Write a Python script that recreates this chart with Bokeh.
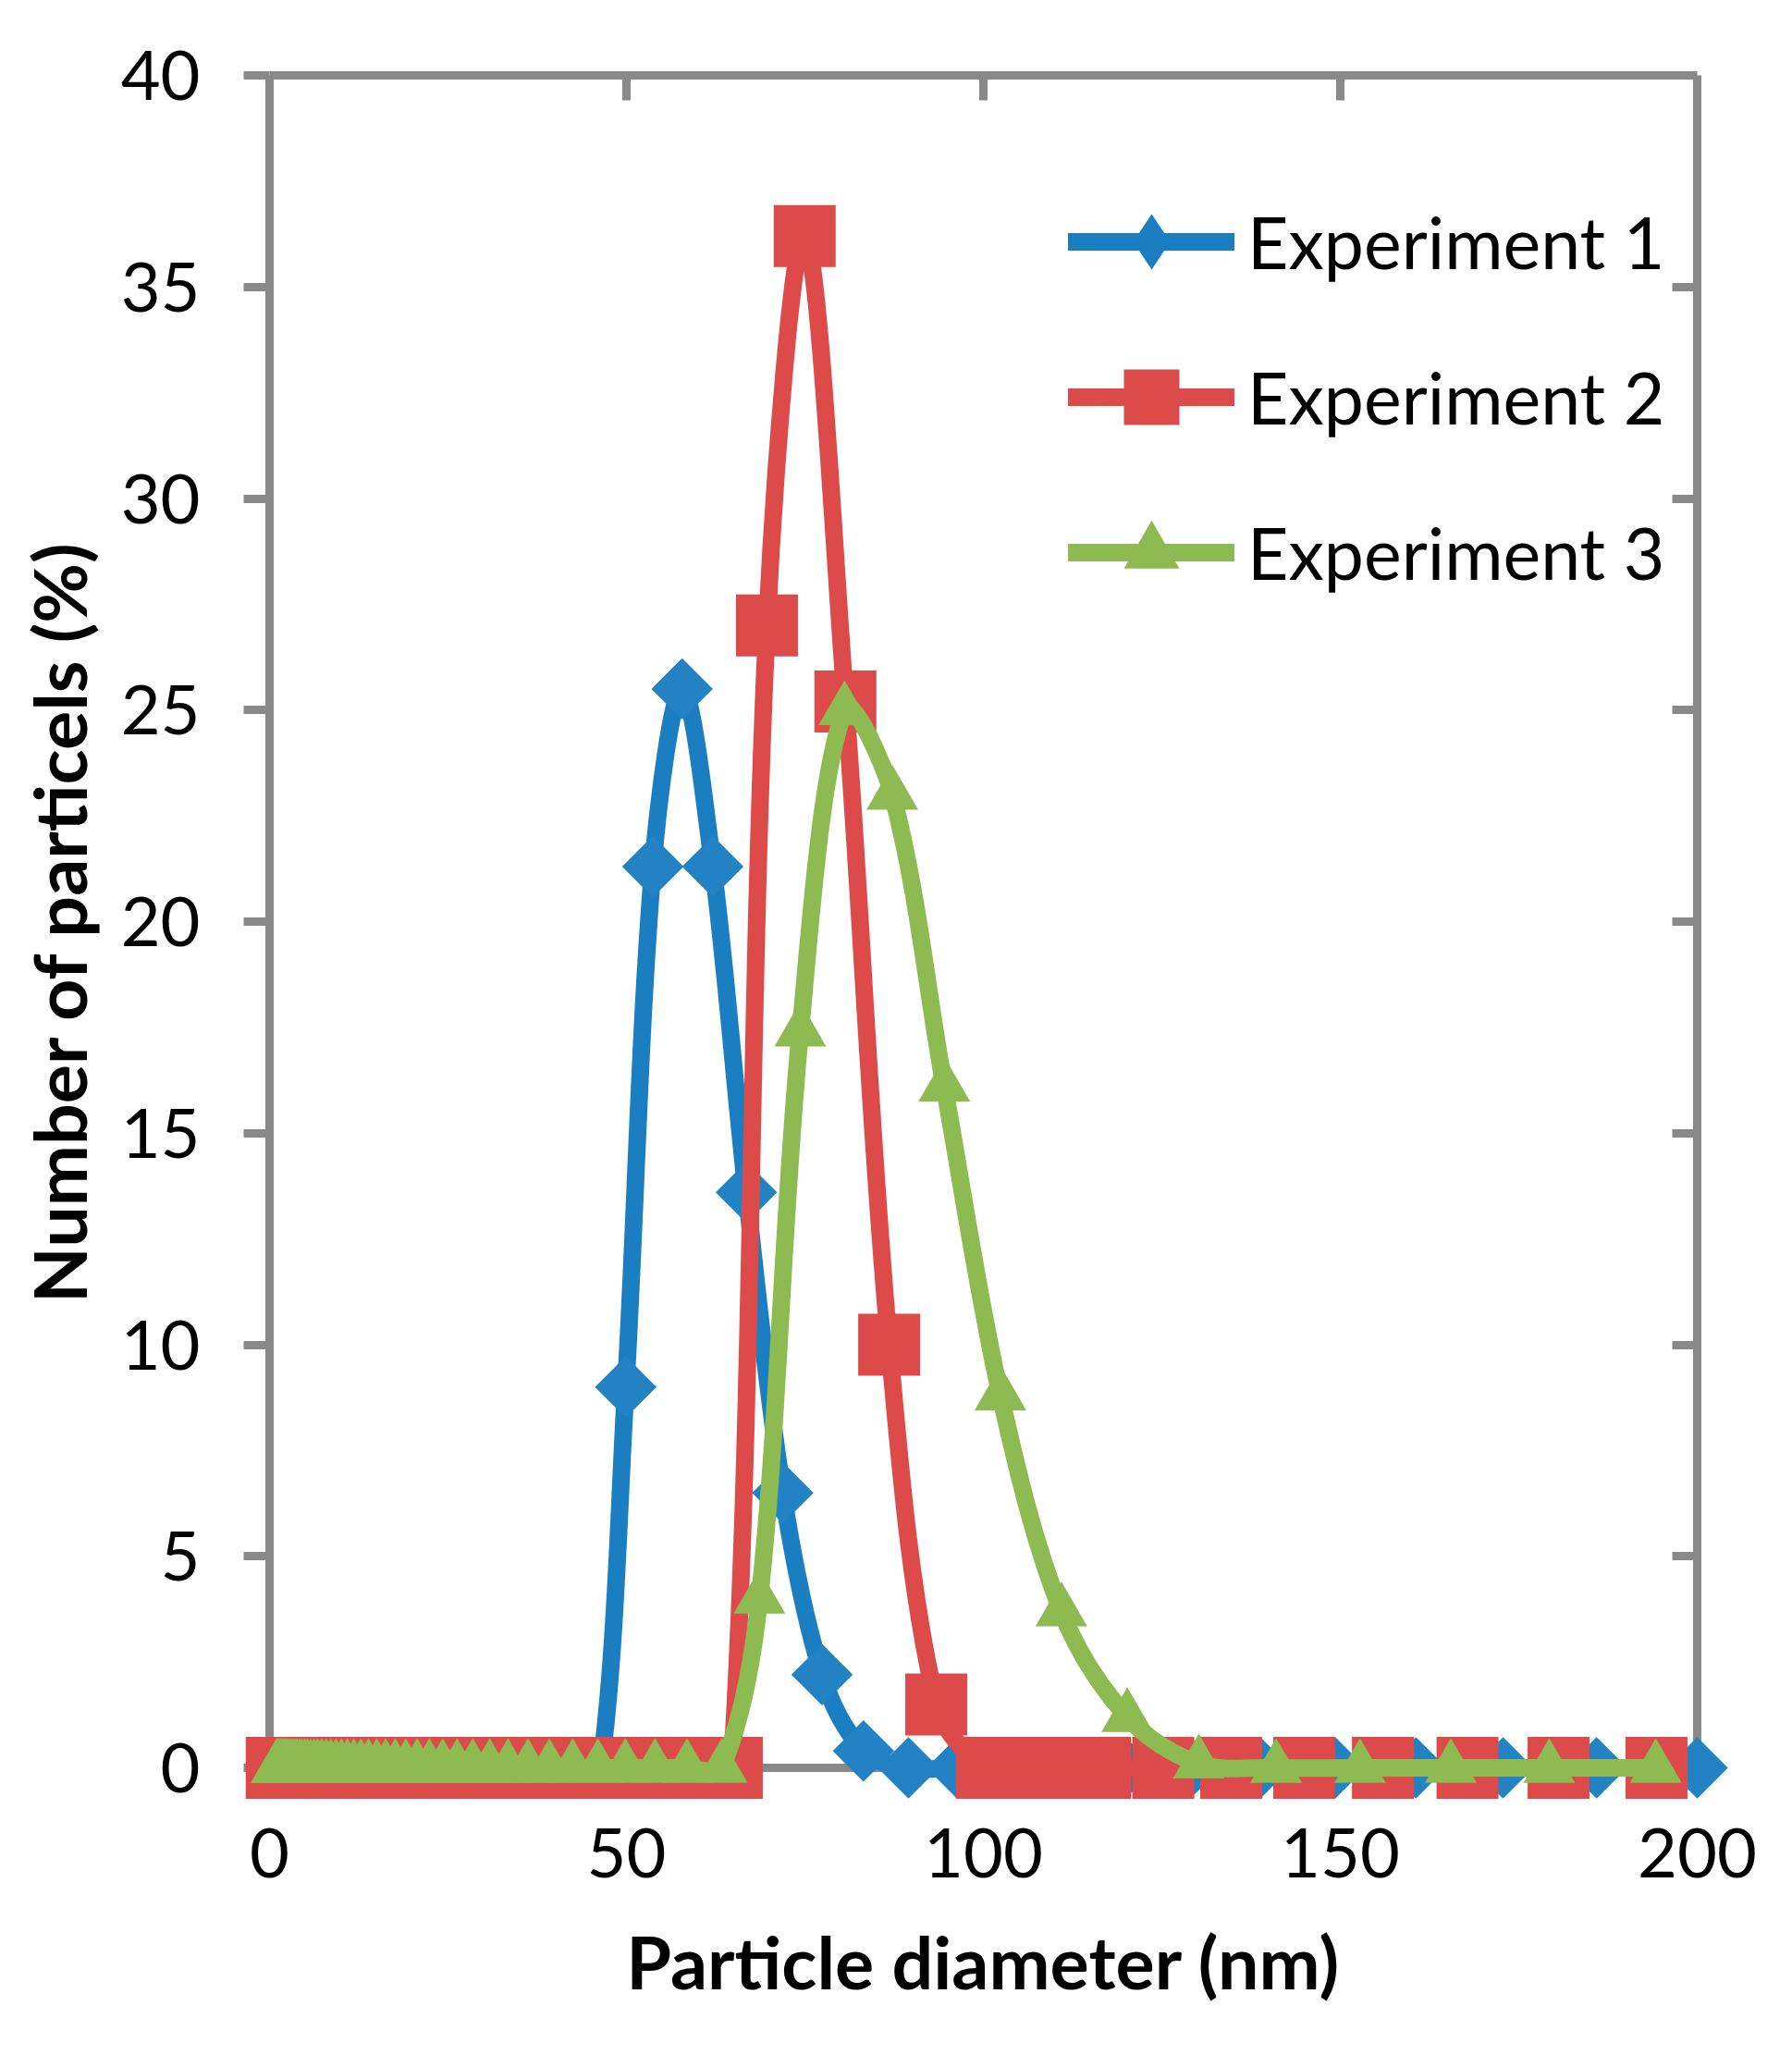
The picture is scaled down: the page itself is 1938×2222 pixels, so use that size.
import numpy as np
from bokeh.plotting import figure
from bokeh.models import (Range1d, LinearAxis, FixedTicker, Legend, LegendItem)
from bokeh.embed import file_html
from bokeh.resources import INLINE

# ---------------- data ----------------
series_names = ["Experiment 1", "Experiment 2", "Experiment 3"]
x_title = "Particle diameter (nm)"
y_title = "Number of particels (%)"
x_ticks = [0, 50, 100, 150, 200]
y_ticks = [0, 5, 10, 15, 20, 25, 30, 35, 40]

exp1_x = [1.04, 1.12, 1.20, 1.30, 1.39, 1.50, 1.61, 1.73, 1.87, 2.01,
          2.16, 2.32, 2.50, 2.69, 2.89, 3.11, 3.34, 3.60, 3.87, 4.16,
          4.48, 4.82, 5.18, 5.58, 6.00, 6.45, 6.94, 7.47, 8.03, 8.64,
          9.30, 10.0, 10.8, 11.6, 12.5, 13.4, 14.4, 15.5, 16.7, 17.9,
          19.3, 20.8, 22.3, 24.0, 25.9, 27.8, 29.9, 32.2, 34.6, 37.3,
          40.1, 43.1, 46.4,
          49.9, 53.7, 57.8, 62.1, 66.8, 71.9, 77.4, 83.2,
          89.5, 96.3, 103.6, 111.5, 119.9, 129.0, 138.8, 149.3, 160.6, 172.8,
          185.9, 200.0]
exp1_y = [0, 0, 0, 0, 0, 0, 0, 0, 0, 0,
          0, 0, 0, 0, 0, 0, 0, 0, 0, 0,
          0, 0, 0, 0, 0, 0, 0, 0, 0, 0,
          0, 0, 0, 0, 0, 0, 0, 0, 0, 0,
          0, 0, 0, 0, 0, 0, 0, 0, 0, 0,
          0, 0, 0,
          9.0, 21.3, 25.5, 21.3, 13.6, 6.5, 2.2, 0.4,
          0, 0, 0, 0, 0, 0, 0, 0, 0, 0,
          0, 0]

exp2_x = [1.00, 1.07, 1.15, 1.24, 1.34, 1.44, 1.55, 1.66, 1.79, 1.93,
          2.07, 2.23, 2.40, 2.58, 2.78, 2.99, 3.21, 3.46, 3.72, 4.00,
          4.31, 4.64, 4.99, 5.37, 5.78, 6.21, 6.69, 7.19, 7.74, 8.33,
          8.96, 9.64, 10.38, 11.16, 12.01, 12.93, 13.91, 14.97, 16.10, 17.33,
          18.64, 20.06, 21.58, 23.22, 24.99, 26.89, 28.93, 31.13, 33.50, 36.04,
          38.78, 41.73, 44.90, 48.31, 51.98, 55.93, 60.18, 64.76,
          69.68, 74.97, 80.67, 86.80, 93.40,
          100.50, 108.14, 116.36, 125.20, 134.71, 144.95, 155.97, 167.82, 180.58,
          194.30]
exp2_y = [0, 0, 0, 0, 0, 0, 0, 0, 0, 0,
          0, 0, 0, 0, 0, 0, 0, 0, 0, 0,
          0, 0, 0, 0, 0, 0, 0, 0, 0, 0,
          0, 0, 0, 0, 0, 0, 0, 0, 0, 0,
          0, 0, 0, 0, 0, 0, 0, 0, 0, 0,
          0, 0, 0, 0, 0, 0, 0, 0,
          27.0, 36.2, 25.2, 10.0, 1.5,
          0, 0, 0, 0, 0, 0, 0, 0, 0,
          0]

exp3_x = [0.99, 1.07, 1.16, 1.26, 1.36, 1.47, 1.60, 1.73, 1.88, 2.03,
          2.20, 2.38, 2.58, 2.80, 3.03, 3.28, 3.56, 3.85, 4.17, 4.52,
          4.90, 5.30, 5.75, 6.23, 6.74, 7.31, 7.91, 8.57, 9.29, 10.06,
          10.90, 11.81, 12.79, 13.86, 15.01, 16.26, 17.61, 19.08, 20.67, 22.39,
          24.26, 26.28, 28.46, 30.84, 33.40, 36.19, 39.20, 42.47, 46.00, 49.83,
          53.99, 58.48, 63.35,
          68.63, 74.35, 80.54, 87.25, 94.52, 102.39, 110.92, 120.16, 130.17,
          141.01, 152.76, 165.48, 179.27, 194.20]
exp3_y = [0, 0, 0, 0, 0, 0, 0, 0, 0, 0,
          0, 0, 0, 0, 0, 0, 0, 0, 0, 0,
          0, 0, 0, 0, 0, 0, 0, 0, 0, 0,
          0, 0, 0, 0, 0, 0, 0, 0, 0, 0,
          0, 0, 0, 0, 0, 0, 0, 0, 0, 0,
          0, 0, 0,
          4.0, 17.4, 25.0, 23.0, 16.1, 8.8, 3.7, 1.2, 0.1,
          0, 0, 0, 0, 0]

# ---------------- styles ----------------
BLUE = "#1B7EC0"
BLUE_FILL = "#2282C3"
RED = "#DC4B49"
GREEN = "#8DBB51"
GREY = "#898989"
FONT = "Lato"
LW = 19

# pixel scale used only for the Excel-like smoothing of the lines
SX, SY = 7.72, 45.75


def smooth_segments(xs, ys, tension=1.0 / 3.0):
    x = np.asarray(xs, float)
    y = np.asarray(ys, float)
    px, py = x * SX, y * SY
    n = len(px)
    cox, coy = px.copy(), py.copy()
    cix, ciy = px.copy(), py.copy()
    for i in range(1, n - 1):
        din = np.hypot(px[i] - px[i - 1], py[i] - py[i - 1])
        dout = np.hypot(px[i + 1] - px[i], py[i + 1] - py[i])
        s = din + dout
        if s <= 0:
            continue
        tx, ty = px[i + 1] - px[i - 1], py[i + 1] - py[i - 1]
        cix[i] = px[i] - tx * tension * din / s
        ciy[i] = py[i] - ty * tension * din / s
        cox[i] = px[i] + tx * tension * dout / s
        coy[i] = py[i] + ty * tension * dout / s
    return dict(x0=x[:-1], y0=y[:-1], x1=x[1:], y1=y[1:],
                cx0=cox[:-1] / SX, cy0=coy[:-1] / SY,
                cx1=cix[1:] / SX, cy1=ciy[1:] / SY)


W, H = 1922, 2206
p = figure(width=W, height=H,
           x_range=Range1d(0, 200), y_range=Range1d(0, 40),
           output_backend="svg", toolbar_location=None,
           min_border_left=291, min_border_right=87,
           min_border_top=81, min_border_bottom=295)
p.xgrid.visible = False
p.ygrid.visible = False
p.outline_line_color = None
p.background_fill_color = "white"
p.border_fill_color = "white"

# bottom axis
xa = p.xaxis[0]
xa.ticker = FixedTicker(ticks=x_ticks)
xa.axis_line_color = GREY
xa.axis_line_width = 9
xa.major_tick_in = 0
xa.major_tick_out = 0
xa.minor_tick_line_color = None
xa.major_label_standoff = 65
xa.major_label_text_font = FONT
xa.major_label_text_font_size = "74px"
xa.major_label_text_color = "black"
xa.axis_label = x_title
xa.axis_label_text_font = FONT
xa.axis_label_text_font_style = "bold"
xa.axis_label_text_font_size = "79px"
xa.axis_label_text_color = "black"
xa.axis_label_standoff = 40

# left axis
ya = p.yaxis[0]
ya.ticker = FixedTicker(ticks=y_ticks)
ya.axis_line_color = GREY
ya.axis_line_width = 9
ya.major_tick_in = 0
ya.major_tick_out = 28
ya.major_tick_line_color = GREY
ya.major_tick_line_width = 9
ya.minor_tick_line_color = None
ya.major_label_standoff = 47
ya.major_label_text_font = FONT
ya.major_label_text_font_size = "74px"
ya.major_label_text_color = "black"
ya.axis_label = y_title
ya.axis_label_text_font = FONT
ya.axis_label_text_font_style = "bold"
ya.axis_label_text_font_size = "79px"
ya.axis_label_text_color = "black"
ya.axis_label_standoff = 17

# top border with inward ticks
top = LinearAxis(ticker=FixedTicker(ticks=[50, 100, 150]),
                 major_tick_in=27, major_tick_out=0,
                 major_tick_line_color=GREY, major_tick_line_width=9,
                 axis_line_color=GREY, axis_line_width=9,
                 minor_tick_line_color=None,
                 major_label_overrides={50: "", 100: "", 150: ""},
                 major_label_text_color=None, major_label_text_font_size="0px")
p.add_layout(top, "above")

# right border with inward ticks
right = LinearAxis(ticker=FixedTicker(ticks=y_ticks[1:-1]),
                   major_tick_in=27, major_tick_out=0,
                   major_tick_line_color=GREY, major_tick_line_width=9,
                   axis_line_color=GREY, axis_line_width=9,
                   minor_tick_line_color=None,
                   major_label_overrides={t: "" for t in y_ticks[1:-1]},
                   major_label_text_color=None, major_label_text_font_size="0px")
p.add_layout(right, "right")

# ---------------- series (drawn above the axes, not clipped) ----------------
l1 = p.bezier(**smooth_segments(exp1_x, exp1_y), line_color=BLUE, line_width=LW,
              line_cap="round")
leg_d = p.scatter(exp1_x, exp1_y, marker="diamond", size=1, fill_color=BLUE,
                  line_color=None)
m1 = p.scatter(exp1_x, exp1_y, marker="square", angle=np.pi / 4, size=47,
               fill_color=BLUE_FILL, line_color=None)
l2 = p.bezier(**smooth_segments(exp2_x, exp2_y), line_color=RED, line_width=LW,
              line_cap="round")
m2 = p.scatter(exp2_x, exp2_y, marker="square", size=67, fill_color=RED,
               line_color=None)
l3 = p.bezier(**smooth_segments(exp3_x, exp3_y), line_color=GREEN, line_width=LW,
              line_cap="round")
m3 = p.scatter(exp3_x, exp3_y, marker="triangle", size=56, fill_color=GREEN,
               line_color=None)
for r in (l1, leg_d, m1, l2, m2, l3, m3):
    r.level = "overlay"

legend = Legend(items=[LegendItem(label=series_names[0], renderers=[l1, leg_d]),
                       LegendItem(label=series_names[1], renderers=[l2, m2]),
                       LegendItem(label=series_names[2], renderers=[l3, m3])],
                location=(864, 1239), glyph_width=180, glyph_height=150,
                spacing=18, padding=0, margin=0, label_standoff=14,
                label_text_font=FONT, label_text_font_size="77px",
                label_text_color="black",
                border_line_color=None, background_fill_alpha=0)
p.add_layout(legend)

open("out.html", "w").write(file_html(p, INLINE, title="Particle size distribution"))
